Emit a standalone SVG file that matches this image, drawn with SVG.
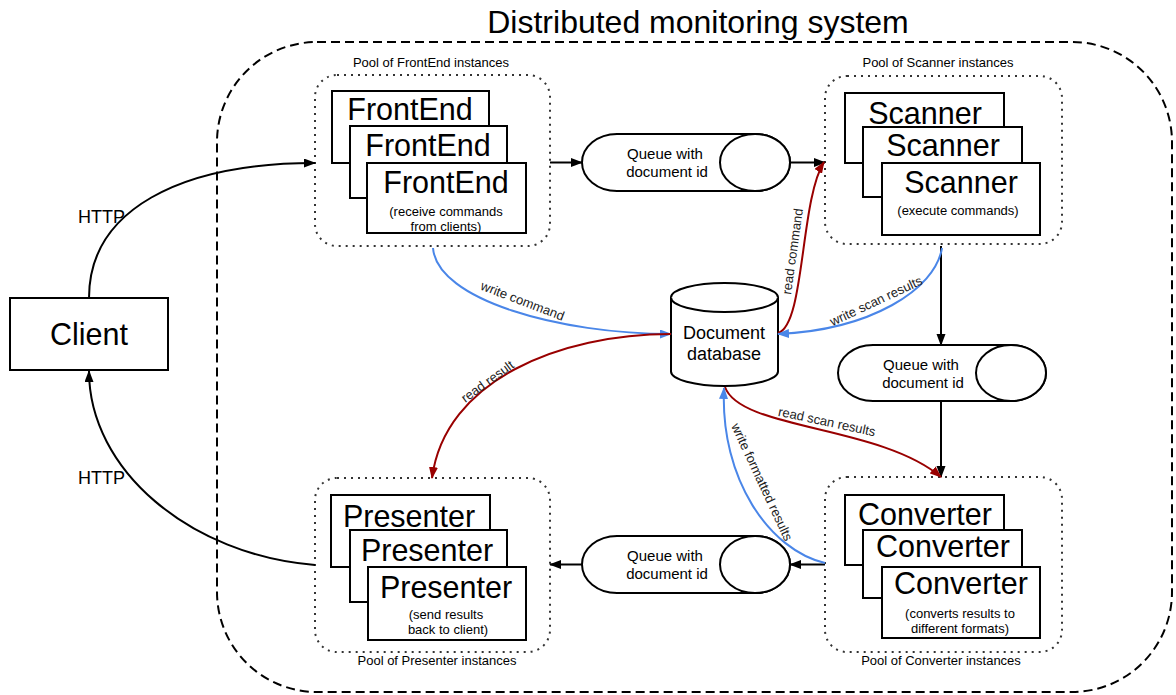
<svg xmlns="http://www.w3.org/2000/svg" width="1176" height="695" viewBox="0 0 1176 695">
<style>
text{font-family:"Liberation Sans",Arial,sans-serif;fill:#000}
.title{font-size:32px}
.big{font-size:30.5px}
.small{font-size:13px}
.q{font-size:15px}
.db{font-size:18px}
.http{font-size:18px}
.lbl{font-size:13px;fill:#222}
.box{fill:#fff;stroke:#000;stroke-width:2}
.pool{fill:none;stroke:#333;stroke-width:2;stroke-dasharray:2 5}
.outer{fill:none;stroke:#000;stroke-width:2;stroke-dasharray:9 5}
.shape{fill:#fff;stroke:#000;stroke-width:2}
.k{fill:none;stroke:#000;stroke-width:2;marker-end:url(#ak)}
.b{fill:none;stroke:#4a86e8;stroke-width:2;marker-end:url(#ab)}
.r{fill:none;stroke:#990000;stroke-width:2;marker-end:url(#ar)}
</style>
<defs>
<marker id="ak" markerUnits="userSpaceOnUse" markerWidth="12" markerHeight="10" refX="11" refY="4.5" orient="auto"><path d="M0,0 L12,4.5 L0,9 z" fill="#000"/></marker>
<marker id="ab" markerUnits="userSpaceOnUse" markerWidth="12" markerHeight="10" refX="11" refY="4.5" orient="auto"><path d="M0,0 L12,4.5 L0,9 z" fill="#4a86e8"/></marker>
<marker id="ar" markerUnits="userSpaceOnUse" markerWidth="12" markerHeight="10" refX="11" refY="4.5" orient="auto"><path d="M0,0 L12,4.5 L0,9 z" fill="#990000"/></marker>
</defs>
<rect width="1176" height="695" fill="#fff"/>

<g id="system">
<rect class="outer" x="217" y="42" width="955" height="650" rx="100"/>
<text class="title" x="698" y="33" text-anchor="middle">Distributed monitoring  system</text>
</g>

<g id="client">
<rect class="box" x="10" y="298" width="158" height="72"/>
<text class="big" x="89" y="345" text-anchor="middle">Client</text>
</g>

<g id="frontend-pool">
<text class="small" x="431" y="67" text-anchor="middle">Pool of FrontEnd instances</text>
<rect class="pool" x="315" y="75" width="235" height="171" rx="22"/>
<rect class="box" x="332" y="91" width="157" height="72"/>
<text class="big" x="410" y="120" text-anchor="middle">FrontEnd</text>
<rect class="box" x="350" y="126" width="157" height="72"/>
<text class="big" x="428" y="156" text-anchor="middle">FrontEnd</text>
<rect class="box" x="367" y="163" width="159" height="70"/>
<text class="big" x="446" y="193" text-anchor="middle">FrontEnd</text>
<text class="small" x="446" y="216" text-anchor="middle">(receive commands</text>
<text class="small" x="446" y="231" text-anchor="middle">from clients)</text>
</g>

<g id="scanner-pool">
<text class="small" x="938" y="67" text-anchor="middle">Pool of Scanner instances</text>
<rect class="pool" x="825" y="76" width="237" height="168" rx="22"/>
<rect class="box" x="845" y="93" width="159" height="70"/>
<text class="big" x="925" y="124" text-anchor="middle">Scanner</text>
<rect class="box" x="863" y="127" width="159" height="70"/>
<text class="big" x="943" y="156" text-anchor="middle">Scanner</text>
<rect class="box" x="882" y="163" width="158" height="72"/>
<text class="big" x="961" y="193" text-anchor="middle">Scanner</text>
<text class="small" x="958" y="215" text-anchor="middle">(execute commands)</text>
</g>

<g id="converter-pool">
<rect class="pool" x="825" y="477" width="237" height="175" rx="22"/>
<text class="small" x="941" y="665" text-anchor="middle">Pool of Converter instances</text>
<rect class="box" x="845" y="495" width="159" height="70"/>
<text class="big" x="925" y="525" text-anchor="middle">Converter</text>
<rect class="box" x="863" y="530" width="159" height="68"/>
<text class="big" x="943" y="557" text-anchor="middle">Converter</text>
<rect class="box" x="882" y="567" width="158" height="71"/>
<text class="big" x="961" y="594" text-anchor="middle">Converter</text>
<text class="small" x="960" y="618" text-anchor="middle">(converts results to</text>
<text class="small" x="960" y="633" text-anchor="middle">different formats)</text>
</g>

<g id="presenter-pool">
<rect class="pool" x="315" y="478" width="235" height="174" rx="22"/>
<text class="small" x="437" y="665" text-anchor="middle">Pool of Presenter instances</text>
<rect class="box" x="331" y="495" width="159" height="72"/>
<text class="big" x="409" y="527" text-anchor="middle">Presenter</text>
<rect class="box" x="350" y="530" width="157" height="72"/>
<text class="big" x="427" y="561" text-anchor="middle">Presenter</text>
<rect class="box" x="368" y="567" width="158" height="73"/>
<text class="big" x="446" y="598" text-anchor="middle">Presenter</text>
<text class="small" x="446" y="619" text-anchor="middle">(send results</text>
<text class="small" x="448" y="634" text-anchor="middle">back to client)</text>
</g>

<g id="queue-1">
<path class="shape" d="M617,134 H755 A35,28.5 0 0,1 755,191 H617 A35,28.5 0 0,1 617,134 Z"/>
<ellipse class="shape" cx="755" cy="162.5" rx="35" ry="28.5"/>
<text class="q" x="665" y="159" text-anchor="middle">Queue with</text>
<text class="q" x="667" y="177" text-anchor="middle">document id</text>
</g>

<g id="queue-2">
<path class="shape" d="M873,345 H1011 A35,28 0 0,1 1011,401 H873 A35,28 0 0,1 873,345 Z"/>
<ellipse class="shape" cx="1011" cy="373" rx="35" ry="28"/>
<text class="q" x="921" y="369.5" text-anchor="middle">Queue with</text>
<text class="q" x="923" y="387.5" text-anchor="middle">document id</text>
</g>

<g id="queue-3">
<path class="shape" d="M617,536 H755 A35,28.5 0 0,1 755,593 H617 A35,28.5 0 0,1 617,536 Z"/>
<ellipse class="shape" cx="755" cy="564.5" rx="35" ry="28.5"/>
<text class="q" x="665" y="561" text-anchor="middle">Queue with</text>
<text class="q" x="667" y="579" text-anchor="middle">document id</text>
</g>

<g id="database">
<path class="shape" d="M671,297.5 A53.5,14.5 0 0,1 778,297.5 V371.5 A53.5,14.5 0 0,1 671,371.5 Z"/>
<path class="shape" fill="none" d="M671,297.5 A53.5,14.5 0 0,0 778,297.5"/>
<text class="db" x="724" y="339" text-anchor="middle">Document</text>
<text class="db" x="724" y="360" text-anchor="middle">database</text>
</g>

<g id="connectors">
<path class="k" d="M89,298 C89,210 180,163 315,163"/>
<text class="http" x="101.5" y="223" text-anchor="middle">HTTP</text>
<path class="k" d="M315,565 C190,555 89,470 89,371"/>
<text class="http" x="101.5" y="484" text-anchor="middle">HTTP</text>

<path class="k" d="M550,162.5 H582"/>
<path class="k" d="M790,162.5 H825"/>
<path class="k" d="M941,246 V345"/>
<path class="k" d="M941,401 V477"/>
<path class="k" d="M825,564.5 H790"/>
<path class="k" d="M582,564.5 H550"/>

<path class="b" d="M433,248 C437,300 560,334 671,334"/>
<text class="lbl" transform="translate(521,305) rotate(21)" text-anchor="middle">write command</text>

<path class="r" d="M671,334 C560,334 445,380 432,478"/>
<text class="lbl" transform="translate(490,385) rotate(-36)" text-anchor="middle">read result</text>

<path class="r" d="M778,333 C805,325 800,200 824,162"/>
<text class="lbl" transform="translate(797,252) rotate(-82)" text-anchor="middle">read command</text>

<path class="b" d="M942,248 C935,290 870,330 778,334"/>
<text class="lbl" transform="translate(878,305) rotate(-25)" text-anchor="middle">write scan results</text>

<path class="r" d="M725,387 C740,430 880,425 941,477"/>
<text class="lbl" transform="translate(826,426) rotate(12)" text-anchor="middle">read scan results</text>

<path class="b" d="M825,563 C770,550 720,480 724,388"/>
<text class="lbl" transform="translate(758,484) rotate(65)" text-anchor="middle">write formatted results</text>
</g>
</svg>
